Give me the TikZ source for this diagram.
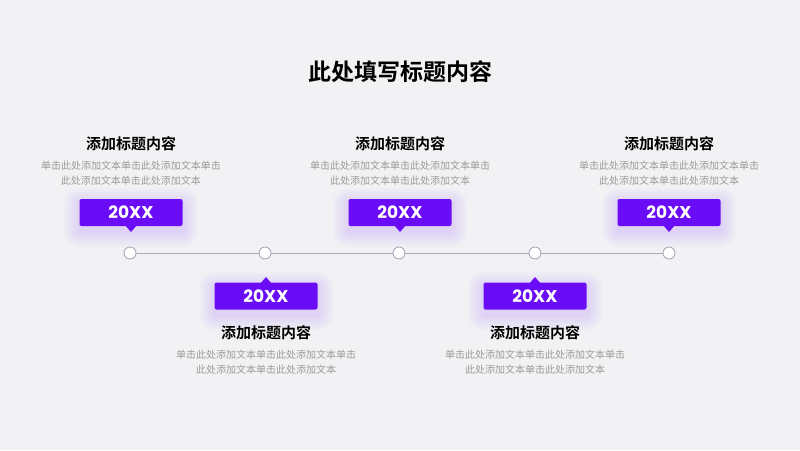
\documentclass[tikz,border=0pt]{standalone}
\usepackage{fontspec}
\setmainfont{Noto Sans CJK SC}[BoldFont={Noto Sans CJK SC Bold}]
\newfontfamily\pop{Poppins}[BoldFont={Poppins Bold}]
\definecolor{bg}{HTML}{F2F2F4}
\definecolor{purp}{HTML}{6A0CF6}
\definecolor{linegray}{HTML}{A8ACB8}
\definecolor{txtgray}{HTML}{9A9A9A}
\tikzset{
  badge/.style={fill=purp, rounded corners=2pt, minimum width=103pt, minimum height=27pt, inner sep=0pt,
    text=white, font=\pop\bfseries\fontsize{17}{17}\selectfont},
  glowlayer/.style={fill=purp, fill opacity=0.016, rounded corners=#1},
  ptr/.style={fill=purp},
  dot/.style={circle, draw=linegray, line width=0.9pt, fill=white, minimum size=12pt, inner sep=0pt},
  htitle/.style={font=\bfseries\fontsize{15}{15}\selectfont, text=black},
  body/.style={font=\fontsize{10}{15}\selectfont, text=txtgray, align=center},
  mtitle/.style={font=\bfseries\fontsize{23}{23}\selectfont, text=black}
}
\newcommand{\glowbox}[2]{%
  \foreach \r in {2,4,...,16}{
    \fill[glowlayer=\r pt] (#1-51.5-\r,#2-13.5+5-\r) rectangle (#1+51.5+\r,#2+13.5+5+\r);
  }%
}
\begin{document}
\begin{tikzpicture}[x=1pt,y=-1pt]
\fill[bg] (0,0) rectangle (800,450);
\useasboundingbox (0,0) rectangle (800,450);
\node[mtitle] (title) at (400,72) {此处填写标题内容};
% glows
\glowbox{131}{212.5}
\glowbox{400}{212.5}
\glowbox{669}{212.5}
\glowbox{266}{296}
\glowbox{535}{296}
% timeline
\node[dot] (d1) at (130,253) {};
\node[dot] (d2) at (265,253) {};
\node[dot] (d3) at (399,253) {};
\node[dot] (d4) at (535,253) {};
\node[dot] (d5) at (669,253) {};
\draw[linegray, line width=0.9pt] (d1) -- (d2) (d2) -- (d3) (d3) -- (d4) (d4) -- (d5);
% top items
\foreach \x/\n in {131/a,400/c,669/e}{
  \fill[ptr] (\x-6,225) -- (\x+6,225) -- (\x,232) -- cycle;
  \node[badge] (b\n) at (\x,212.5) {20XX};
  \node[htitle] (h\n) at (\x,144) {添加标题内容};
  \node[body] (t\n) at (\x,173) {单击此处添加文本单击此处添加文本单击\\此处添加文本单击此处添加文本};
}
% bottom items
\foreach \x/\n in {266/b,535/d}{
  \fill[ptr] (\x-6,284) -- (\x+6,284) -- (\x,277) -- cycle;
  \node[badge] (b\n) at (\x,296) {20XX};
  \node[htitle] (h\n) at (\x,333) {添加标题内容};
  \node[body] (t\n) at (\x,362) {单击此处添加文本单击此处添加文本单击\\此处添加文本单击此处添加文本};
}
\end{tikzpicture}
\end{document}
